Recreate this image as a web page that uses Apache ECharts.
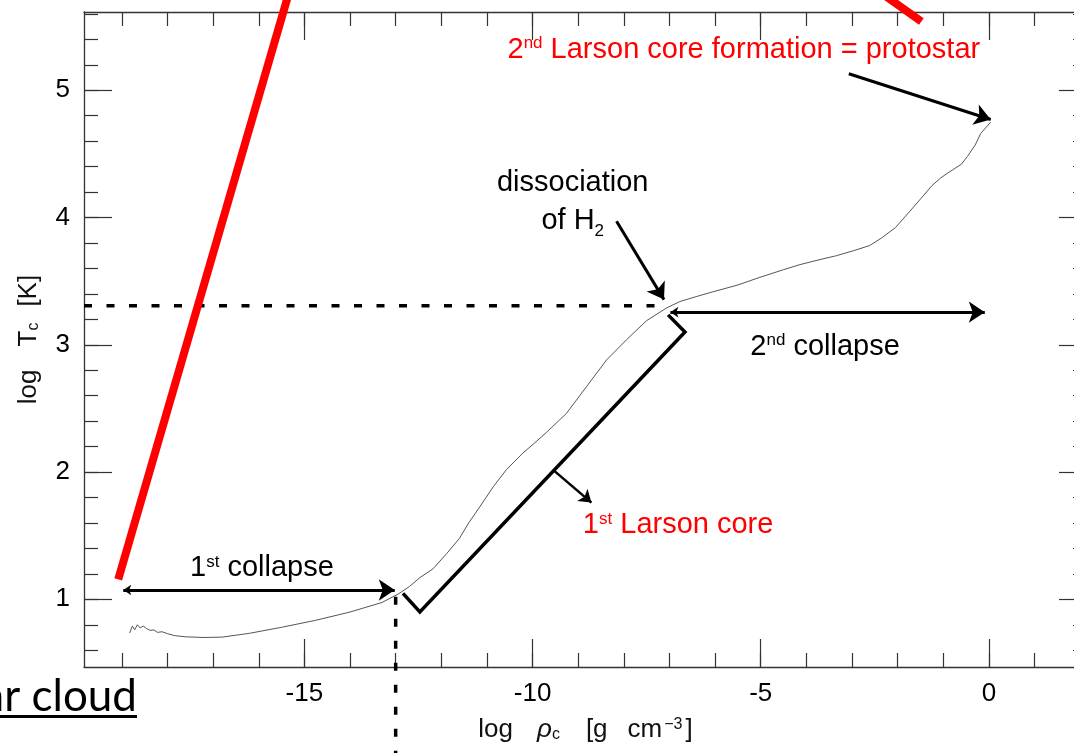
<!DOCTYPE html>
<html>
<head>
<meta charset="utf-8">
<script src="https://cdn.jsdelivr.net/npm/echarts@6/dist/echarts.min.js"></script>
<style>
html, body { margin: 0; padding: 0; background: #fff; }
#chart { width: 1074px; height: 753px; }
</style>
</head>
<body>
<div id="chart"></div>
<script>
// Evolutionary track of a collapsing cloud core: central density vs central temperature
const logRho = [-18.83, -18.77, -18.72, -18.66, -18.6, -18.53, -18.46, -18.38, -18.3, -18.22,
  -18.12, -18.0, -17.85, -17.6, -17.2, -16.8, -16.2, -15.5, -14.75, -14.0,
  -13.3, -12.95, -12.7, -12.47, -12.18, -11.88, -11.6, -11.4, -11.15, -10.86,
  -10.57, -10.21, -9.95, -9.7, -9.26, -8.82, -8.38, -7.94, -7.5, -7.06,
  -6.77, -6.4, -6.11, -5.5, -5.02, -4.5, -4.14, -3.7, -3.34, -2.96,
  -2.61, -2.35, -2.05, -1.73, -1.44, -1.25, -1.06, -0.9, -0.77, -0.6,
  -0.47, -0.3, -0.18, 0.04];
const logTc = [0.735, 0.79, 0.76, 0.80, 0.775, 0.79, 0.77, 0.755, 0.76, 0.74,
  0.745, 0.73, 0.715, 0.705, 0.70, 0.703, 0.733, 0.78, 0.835, 0.90,
  0.975, 1.04, 1.10, 1.17, 1.24, 1.36, 1.48, 1.60, 1.73, 1.885,
  2.02, 2.15, 2.23, 2.31, 2.46, 2.67, 2.88, 3.04, 3.19, 3.29,
  3.34, 3.38, 3.41, 3.47, 3.53, 3.59, 3.63, 3.67, 3.70, 3.74,
  3.78, 3.84, 3.92, 4.05, 4.17, 4.25, 4.31, 4.35, 4.38, 4.42,
  4.48, 4.57, 4.66, 4.75];

// Axis extents and ticks
const xRange = [-19.83, 2.15];
const yRange = [0.468, 5.615];
const xMajor = [-15, -10, -5, 0];
const xMinor = [-19, -18, -17, -16, -15, -14, -13, -12, -11, -10, -9, -8, -7, -6, -5, -4, -3, -2, -1, 0, 1, 2];
const yMajor = [1, 2, 3, 4, 5];
const yMinor = [0.6, 0.8, 1.0, 1.2, 1.4, 1.6, 1.8, 2.0, 2.2, 2.4, 2.6, 2.8, 3.0, 3.2, 3.4, 3.6, 3.8,
  4.0, 4.2, 4.4, 4.6, 4.8, 5.0, 5.2, 5.4, 5.6];

// Annotation geometry (log rho, log T)
const h2Level = [[-19.83, 3.306], [-7.06, 3.306]];
const firstCoreDensity = [[-13.0, 1.02], [-13.0, -0.22]];
const firstCollapse = [[-18.97, 1.073], [-13.02, 1.073]];
const secondCollapse = [[-6.98, 3.256], [-0.09, 3.256]];
const h2Pointer = [[-8.16, 3.97], [-7.12, 3.355]];
const protostarPointer = [[-3.07, 5.13], [0.04, 4.77]];
const coreBracket = [[-12.84, 1.047], [-12.47, 0.90], [-6.66, 3.10], [-7.03, 3.235]];
const corePointer = [[-9.55, 2.017], [-8.71, 1.76]];
const slashLeft = [[-19.08, 1.157], [-15.32, 5.79]];
const slashRight = [[-2.46, 5.79], [-1.48, 5.54]];

// Text notes: anchor (log rho, log T) and rich-text content
const redNotes = [
  [-5.37, 5.318, '{t|2}{s|nd}{t| Larson core formation = protostar}'],
  [-6.81, 1.584, '{t|1}{s|st}{t| Larson core}']
];
const blackNotes = [
  [-9.12, 4.123, '{u|dissociation}\n{u|of H}{b|2}'],
  [-3.59, 2.986, '{t|2}{s|nd}{t| collapse}'],
  [-15.93, 1.244, '{t|1}{s|st}{t| collapse}']
];

const FONT = '"Liberation Sans", Arial, Helvetica, sans-serif';
const AXIS = '#333333';
const noteRich = {
  t: { fontSize: 29, fontFamily: FONT },
  u: { fontSize: 29, fontFamily: FONT, lineHeight: 38 },
  s: { fontSize: 17, fontFamily: FONT, verticalAlign: 'top' },
  b: { fontSize: 17, fontFamily: FONT, verticalAlign: 'bottom' }
};

function xAxisDef(position, ticks, len, withLine, withLabels) {
  return {
    type: 'value', position: position, min: xRange[0], max: xRange[1],
    axisLine: { show: withLine, onZero: false, lineStyle: { color: AXIS, width: 1.3 } },
    axisTick: { show: true, inside: true, length: len, customValues: ticks, lineStyle: { color: AXIS, width: 1.2 } },
    axisLabel: withLabels ? {
      show: true, customValues: ticks, margin: 14, fontSize: 26, fontFamily: FONT, color: '#000',
      formatter: function (v) { return String(v); }
    } : { show: false },
    splitLine: { show: false }, minorTick: { show: false }, minorSplitLine: { show: false }
  };
}
function yAxisDef(position, ticks, len, withLine, withLabels) {
  return {
    type: 'value', position: position, min: yRange[0], max: yRange[1],
    axisLine: { show: withLine, onZero: false, lineStyle: { color: AXIS, width: 1.3 } },
    axisTick: { show: true, inside: true, length: len, customValues: ticks, lineStyle: { color: AXIS, width: 1.2 } },
    axisLabel: withLabels ? {
      show: true, customValues: ticks, margin: 14, fontSize: 26, fontFamily: FONT, color: '#000',
      formatter: function (v) { return String(v); }
    } : { show: false },
    splitLine: { show: false }, minorTick: { show: false }, minorSplitLine: { show: false }
  };
}

const xAxes = [
  xAxisDef('bottom', xMajor, 28, true, true),
  xAxisDef('bottom', xMinor, 14, false, false),
  xAxisDef('top', xMajor, 28, true, false),
  xAxisDef('top', xMinor, 14, false, false)
];
Object.assign(xAxes[0], {
  name: '{t|log}{r|ρ}{b|c}{k|[g}{m|cm}{p|−3}{e|]}',
  nameLocation: 'middle', nameGap: 50,
  nameTextStyle: {
    color: '#111', fontSize: 26, fontFamily: FONT,
    rich: {
      t: { fontSize: 26, fontFamily: FONT },
      r: { fontSize: 26, fontFamily: FONT, fontStyle: 'italic', padding: [0, 0, 0, 24] },
      b: { fontSize: 16, fontFamily: FONT, verticalAlign: 'bottom' },
      k: { fontSize: 26, fontFamily: FONT, padding: [0, 0, 0, 26] },
      m: { fontSize: 26, fontFamily: FONT, padding: [0, 0, 0, 20] },
      p: { fontSize: 16, fontFamily: FONT, verticalAlign: 'top', padding: [0, 0, 0, 2] },
      e: { fontSize: 26, fontFamily: FONT, padding: [0, 0, 0, 3] }
    }
  }
});

const yAxes = [
  yAxisDef('left', yMajor, 28, true, true),
  yAxisDef('left', yMinor, 14, false, false),
  yAxisDef('right', yMajor, 28, true, false),
  yAxisDef('right', yMinor, 14, false, false)
];
Object.assign(yAxes[0], {
  name: '{t|log}{T|T}{b|c}{k|[K]}',
  nameLocation: 'middle', nameGap: 42,
  nameTextStyle: {
    color: '#111', fontSize: 26, fontFamily: FONT,
    rich: {
      t: { fontSize: 26, fontFamily: FONT },
      T: { fontSize: 26, fontFamily: FONT, padding: [0, 0, 0, 23] },
      b: { fontSize: 16, fontFamily: FONT, verticalAlign: 'bottom' },
      k: { fontSize: 26, fontFamily: FONT, padding: [0, 0, 0, 16] }
    }
  }
});

const zip = (xs, ys) => xs.map((x, i) => [x, ys[i]]);

function noteSeries(list, color) {
  return {
    type: 'scatter', symbol: 'circle', symbolSize: 0, clip: false, silent: true,
    itemStyle: { color: '#ffffff', opacity: 1 },
    label: { show: true, opacity: 1, position: 'inside', color: color, fontFamily: FONT, fontSize: 29, rich: noteRich },
    emphasis: { disabled: true },
    data: list.map(n => ({ value: [n[0], n[1]], label: { formatter: n[2] } })),
    z: 6
  };
}
function plainLine(points, color, width, dash) {
  return {
    type: 'line', data: points, symbol: 'none', showSymbol: false, clip: false, silent: true,
    lineStyle: { color: color, width: width, type: dash || 'solid', cap: 'butt', join: 'miter' },
    z: 3
  };
}

const chart = echarts.init(document.getElementById('chart'), null, { renderer: 'canvas' });
chart.setOption({
  animation: false,
  backgroundColor: '#ffffff',
  grid: { left: 84, top: 12, width: 1003, height: 655, containLabel: false, outerBoundsMode: 'none' },
  xAxis: xAxes,
  yAxis: yAxes,
  graphic: [
    {
      type: 'text', x: 137, y: 719,
      style: { text: 'Molecular cloud', fill: '#000', font: '44px Lato, "Open Sans", sans-serif', textAlign: 'right', textVerticalAlign: 'bottom' }
    },
    { type: 'rect', shape: { x: 0, y: 715, width: 137, height: 3 }, style: { fill: '#000' } }
  ],
  series: [
    // model track
    {
      type: 'line', name: 'track', data: zip(logRho, logTc), symbol: 'none', showSymbol: false,
      smooth: false, silent: true, lineStyle: { color: '#555', width: 1 }, z: 4
    },
    plainLine(h2Level, '#000', 3.5, [8, 14.5]),
    plainLine(firstCoreDensity, '#000', 3.5, [8, 14]),
    plainLine(coreBracket, '#000', 3.5),
    plainLine(slashLeft, '#ff0000', 8),
    plainLine(slashRight, '#ff0000', 8),
    {
      type: 'lines', coordinateSystem: 'cartesian2d', silent: true, clip: false,
      symbol: ['arrow', 'arrow'], symbolSize: [8, 16],
      lineStyle: { color: '#000', width: 3, opacity: 1, curveness: 0 },
      data: [{ coords: firstCollapse }, { coords: secondCollapse }], z: 5
    },
    {
      type: 'lines', coordinateSystem: 'cartesian2d', silent: true, clip: false,
      symbol: ['none', 'arrow'], symbolSize: [8, 16],
      lineStyle: { color: '#000', width: 3, opacity: 1, curveness: 0 },
      data: [{ coords: h2Pointer }, { coords: protostarPointer }], z: 5
    },
    {
      type: 'lines', coordinateSystem: 'cartesian2d', silent: true, clip: false,
      symbol: ['none', 'arrow'], symbolSize: [6, 12],
      lineStyle: { color: '#000', width: 2.5, opacity: 1, curveness: 0 },
      data: [{ coords: corePointer }], z: 5
    },
    noteSeries(redNotes, '#ff0000'),
    noteSeries(blackNotes, '#000')
  ]
});
</script>
</body>
</html>
